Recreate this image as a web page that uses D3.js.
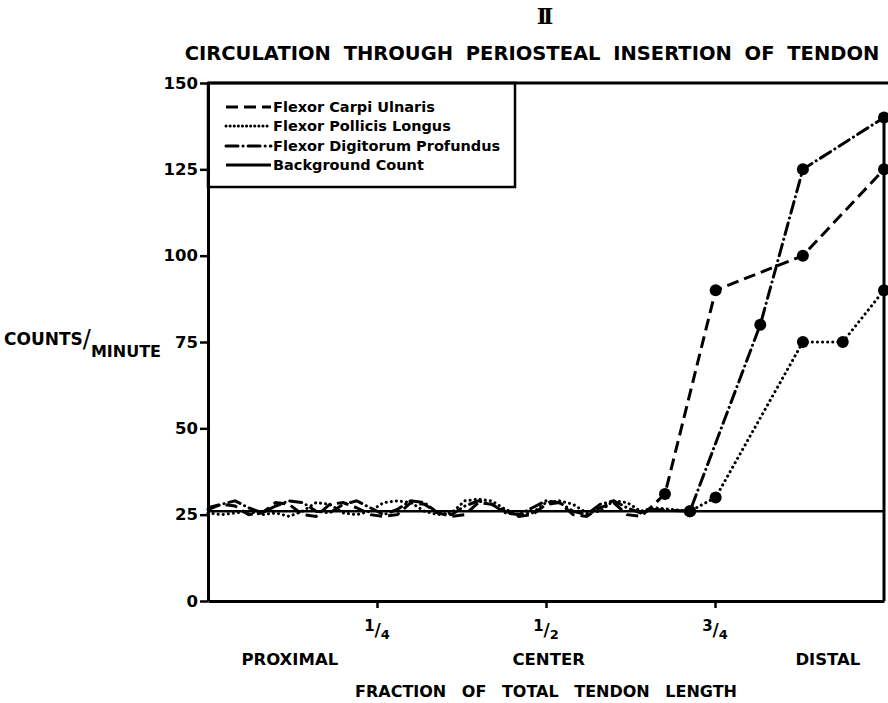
<!DOCTYPE html>
<html><head><meta charset="utf-8">
<script src="https://cdn.jsdelivr.net/npm/d3@7"></script>
<style>
body{margin:0;background:#fff}
text{font-family:"DejaVu Sans",sans-serif;font-weight:bold;fill:#000}
</style>
</head><body><svg id="c" width="888" height="703"></svg>
<script>
// ---- data ----
const yTicks = [0, 25, 50, 75, 100, 125, 150];
const xTicks = [0.25, 0.5, 0.75];
const xTickNum = ["1", "1", "3"];
const xTickDen = ["4", "2", "4"];
const regionLabels = ["PROXIMAL", "CENTER", "DISTAL"];
const regionPos = [0.121, 0.504, 0.917];

const waveX = [0, 0.02, 0.04, 0.06, 0.08, 0.10, 0.12, 0.14, 0.16, 0.18, 0.20, 0.22, 0.24, 0.26, 0.28, 0.30, 0.32, 0.34, 0.36, 0.38, 0.40, 0.42, 0.44, 0.46, 0.48, 0.50, 0.52, 0.54, 0.56, 0.58, 0.60, 0.62, 0.64, 0.66];
const fcuWave = [27, 28, 27.5, 25, 25.5, 28.5, 28, 25, 24.5, 28, 28.5, 27, 25, 24.5, 25, 28.5, 28, 25.5, 24.5, 25, 28.5, 28, 26, 24.5, 25, 28, 28.5, 25, 24.5, 27, 28.5, 25, 24.5, 28];
const fplWave = [25.5, 25, 25.5, 26, 25, 25.5, 24.5, 26, 28.5, 28, 25.5, 25, 26, 28.5, 29, 28.5, 26, 25, 25.5, 29, 29.5, 29, 26.5, 25, 25.5, 28.5, 29, 28, 25.5, 26, 29, 28.5, 26, 27];
const fdpWave = [26.5, 28, 29, 27, 25.5, 27.5, 29, 28.5, 26, 25.5, 28, 29, 27, 25, 26.5, 29, 28.5, 25.5, 25, 27.5, 29, 28, 25.5, 25, 27, 29, 28.5, 26, 25, 28, 29, 27, 25.5, 26.5];

const fcuX = [0.676, 0.751, 0.880, 1.0];
const fcuY = [31, 90, 100, 125];
const fplX = [0.713, 0.751, 0.880, 0.939, 1.0];
const fplY = [26, 30, 75, 75, 90];
const fdpX = [0.713, 0.817, 0.880, 1.0];
const fdpY = [26, 80, 125, 140];

const backgroundX = [0, 1];
const backgroundY = [26, 26];

const seriesNames = ["Flexor Carpi Ulnaris", "Flexor Pollicis Longus", "Flexor Digitorum Profundus", "Background Count"];

// ---- drawing ----
const svg = d3.select("#c");
const x = d3.scaleLinear().domain([0, 1]).range([208, 884]);
const y = d3.scaleLinear().domain([0, 150]).range([601, 83]);

const dashes = ["12,6", "0.1,5", "12,5,0.1,5", null];
const caps = ["butt", "round", "round", "butt"];

// title
svg.append("text").attr("x", 543).attr("y", 24).attr("text-anchor", "middle")
  .style("font-family", "'DejaVu Serif',serif").style("font-size", "22px").style("letter-spacing", "-4px").text("II");
svg.append("text").attr("x", 532).attr("y", 60).attr("text-anchor", "middle")
  .style("font-size", "19.5px").style("word-spacing", "6px").text("CIRCULATION THROUGH PERIOSTEAL INSERTION OF TENDON");

// axes
const yAxis = svg.append("g").attr("transform", `translate(${x(0)},0)`)
  .call(d3.axisLeft(y).tickValues(yTicks).tickSize(8).tickSizeOuter(0).tickPadding(2));
yAxis.select(".domain").attr("stroke-width", 3);
yAxis.selectAll(".tick line").attr("stroke-width", 2.5);
yAxis.selectAll(".tick text").style("font-size", "16.5px").style("font-family", "'DejaVu Sans',sans-serif").style("font-weight", "bold");

const xAxis = svg.append("g").attr("transform", `translate(0,${y(0)})`)
  .call(d3.axisBottom(x).tickValues(xTicks).tickSize(7).tickSizeOuter(0).tickFormat(""));
xAxis.select(".domain").attr("stroke-width", 3);
xAxis.selectAll(".tick line").attr("stroke-width", 2.5);

// fraction tick labels
xTicks.forEach((v, i) => {
  const t = svg.append("text").attr("x", x(v)).attr("y", 637).attr("text-anchor", "middle").style("font-size", "15px");
  t.append("tspan").attr("dy", -6).text(xTickNum[i]);
  t.append("tspan").text("/").attr("dy", 5).style("font-size", "17px");
  t.append("tspan").attr("dy", 3).style("font-size", "13px").text(xTickDen[i]);
});

regionLabels.forEach((l, i) => {
  svg.append("text").attr("x", x(regionPos[i])).attr("y", 665).attr("text-anchor", "middle")
    .style("font-size", "16.5px").text(l);
});
svg.append("text").attr("x", 546).attr("y", 697).attr("text-anchor", "middle")
  .style("font-size", "16px").style("word-spacing", "10px").text("FRACTION OF TOTAL TENDON LENGTH");

// y label
const yl = svg.append("text").attr("x", 4).attr("y", 345).style("font-size", "17px");
yl.append("tspan").text("COUNTS");
yl.append("tspan").attr("dy", 2).style("font-size", "24px").style("font-weight", "normal").text("/");
yl.append("tspan").attr("dy", 10).style("font-size", "16px").text("MINUTE");

// frame
svg.append("line").attr("x1", x(0)).attr("x2", 888).attr("y1", y(150)).attr("y2", y(150)).attr("stroke", "#000").attr("stroke-width", 3);
svg.append("line").attr("x1", x(1)).attr("x2", x(1)).attr("y1", y(140)).attr("y2", y(0)).attr("stroke", "#000").attr("stroke-width", 3);

// lines
const line = d3.line().x(d => x(d[0])).y(d => y(d[1]));
const series = [
  {wx: waveX, wy: fcuWave, mx: fcuX, my: fcuY},
  {wx: waveX, wy: fplWave, mx: fplX, my: fplY},
  {wx: waveX, wy: fdpWave, mx: fdpX, my: fdpY},
  {wx: [], wy: [], mx: backgroundX, my: backgroundY}
];

series.forEach((s, i) => {
  const pts = s.wx.map((v, j) => [v, s.wy[j]]).concat(s.mx.map((v, j) => [v, s.my[j]]));
  svg.append("path").attr("d", line(pts)).attr("fill", "none").attr("stroke", "#000")
    .attr("stroke-width", i === 3 ? 2.5 : 3).attr("stroke-dasharray", dashes[i]).attr("stroke-linecap", caps[i]);
  if (i < 3) {
    svg.selectAll(null).data(s.mx.map((v, j) => [v, s.my[j]])).enter().append("circle")
      .attr("cx", d => x(d[0])).attr("cy", d => y(d[1])).attr("r", 6).attr("fill", "#000");
  }
});

// legend
svg.append("rect").attr("x", x(0)).attr("y", y(150)).attr("width", 307).attr("height", 104)
  .attr("fill", "none").attr("stroke", "#000").attr("stroke-width", 2.5);
const legY = [107, 126, 146, 165];
seriesNames.forEach((n, i) => {
  svg.append("line").attr("x1", 226).attr("x2", 271).attr("y1", legY[i]).attr("y2", legY[i])
    .attr("stroke", "#000").attr("stroke-width", 3).attr("stroke-dasharray", i === 1 ? "0.1,4" : dashes[i]).attr("stroke-linecap", caps[i]);
  svg.append("text").attr("x", 273).attr("y", legY[i] + 5).style("font-size", "14.5px").text(n);
});
</script></body></html>
